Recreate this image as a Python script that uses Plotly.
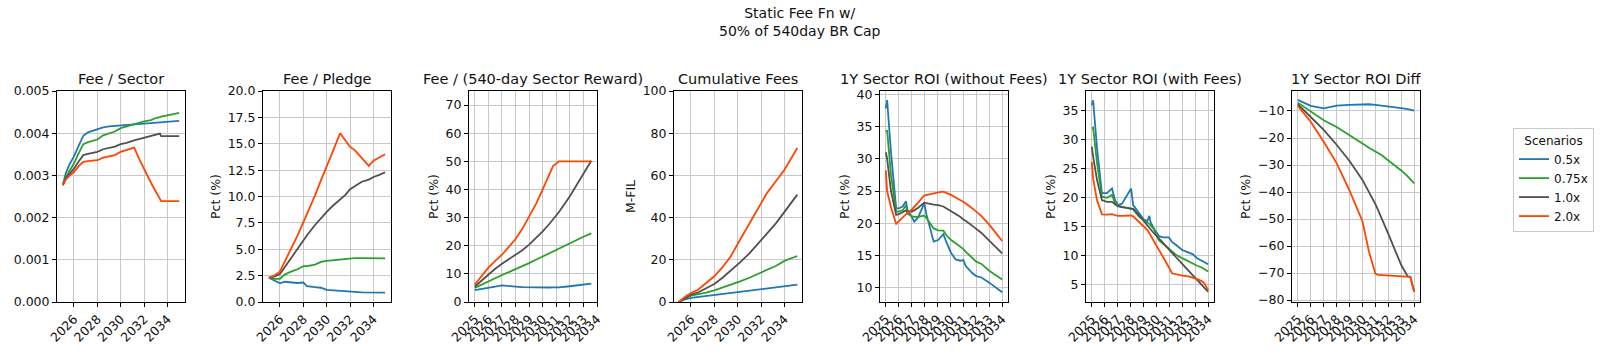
import plotly.graph_objects as go

# ---------------- data ----------------
SCENARIOS = ["0.5x", "0.75x", "1.0x", "2.0x"]
COLORS = ["#1f77b4", "#2ca02c", "#505050", "#ff4500"]

# Fee / Sector (x in years)
T1 = [2025.05, 2025.3, 2025.6, 2026.0, 2026.4, 2026.8, 2027.2, 2028.0, 2028.5, 2029.0, 2029.5,
      2030.0, 2030.5, 2031.15, 2031.6, 2032.0, 2032.6, 2033.0, 2033.35, 2033.46, 2034.0, 2035.0]
FEE_SECTOR = [
    [.00277, .00305, .00325, .00345, .00370, .00394, .00402, .00410, .00414, .00416, .00417,
     .00419, .00420, .00420, .00421, .00422, .00423, .00424, .00425, .00425, .00427, .00429],
    [.00277, .00295, .00310, .00328, .00352, .00374, .00379, .00385, .00395, .00400, .00404,
     .00412, .00416, .00421, .00425, .00428, .00431, .00436, .00438, .00439, .00442, .00448],
    [.00277, .00292, .00303, .00316, .00333, .00348, .00351, .00356, .00362, .00365, .00368,
     .00374, .00377, .00383, .00386, .00389, .00393, .00396, .00399, .00393, .00393, .00393],
    [.00277, .00290, .00299, .00308, .00322, .00332, .00334, .00336, .00342, .00345, .00348,
     .00356, .00360, .00366, .00338, .00315, .00282, .00262, .00244, .00239, .00239, .00239],
]

# Fee / Pledge (%)
T2 = [2025.05, 2025.5, 2026.0, 2026.4, 2027.0, 2027.5, 2028.0, 2028.3, 2029.0, 2029.5, 2030.0,
      2030.5, 2031.15, 2031.6, 2032.0, 2032.4, 2033.0, 2033.6, 2034.0, 2034.5, 2035.0]
FEE_PLEDGE = [
    [2.3, 2.05, 1.77, 1.92, 1.82, 1.8, 1.85, 1.5, 1.4, 1.35, 1.15, 1.1, 1.05, 1.02, 0.98, 0.96,
     0.92, 0.9, 0.89, 0.88, 0.88],
    [2.3, 2.2, 2.2, 2.6, 2.9, 3.1, 3.4, 3.4, 3.55, 3.8, 3.9, 3.95, 4.05, 4.1, 4.15, 4.15, 4.15,
     4.15, 4.18, 4.12, 4.13],
    [2.3, 2.4, 2.65, 3.3, 4.3, 5.1, 5.9, 6.3, 7.3, 7.95, 8.55, 9.1, 9.75, 10.15, 10.7, 11.0, 11.4,
     11.6, 11.85, 12.05, 12.3],
    [2.3, 2.5, 2.9, 3.8, 5.1, 6.3, 7.55, 8.3, 10.1, 11.5, 12.8, 14.2, 16.0, 15.3, 14.7, 14.4, 13.7,
     12.9, 13.4, 13.7, 14.0],
]

# Fee / (540-day Sector Reward) (%), x = year index from 2025
I3 = [0, 0.5, 1, 1.5, 2, 2.5, 3, 3.5, 4, 4.5, 5, 5.5, 5.76, 6.2, 7, 8, 8.58]
FEE_REWARD = [
    [4.2, 4.7, 5.1, 5.5, 5.9, 5.8, 5.5, 5.3, 5.2, 5.1, 5.1, 5.15, 5.2, 5.2, 5.6, 6.1, 6.5],
    [5.0, 6.2, 7.4, 8.5, 9.6, 10.6, 11.6, 12.7, 13.8, 15.0, 16.2, 17.4, 18.0, 19.1, 21.0, 23.2, 24.4],
    [5.5, 7.7, 9.8, 11.8, 13.6, 15.1, 16.6, 18.4, 20.4, 22.6, 25.1, 27.8, 29.3, 32.0, 37.6, 45.3, 50.2],
    [6.2, 9.2, 12.2, 14.6, 16.8, 19.6, 22.4, 26.0, 30.2, 34.8, 40.0, 45.3, 48.3, 50.0, 50.0, 50.0, 50.0],
]

# Cumulative Fees (M-FIL)
T4 = [2024.95, 2025.5, 2026.0, 2026.6, 2027.3, 2028.0, 2028.7, 2029.4, 2030.2, 2031.0, 2031.8,
      2032.5, 2033.3, 2034.0, 2035.1]
CUM_FEES = [
    [0, 1.3, 2.0, 2.4, 3.0, 3.5, 3.9, 4.3, 4.9, 5.4, 6.0, 6.5, 7.1, 7.6, 8.2],
    [0, 1.8, 3.0, 3.6, 4.5, 5.5, 6.8, 8.0, 9.8, 11.5, 13.4, 15.0, 17.2, 19.5, 21.8],
    [0, 2.0, 3.5, 4.5, 6.5, 8.5, 11.5, 14.8, 18.8, 23.0, 27.8, 32.4, 37.5, 42.5, 50.9],
    [0, 2.5, 4.2, 5.8, 9.0, 12.2, 16.5, 21.6, 29.5, 37.0, 44.5, 51.6, 57.5, 62.7, 73.0],
]

# 1Y Sector ROI (without Fees)
I5 = [0, 0.1, 0.4, 0.8, 1.0, 1.3, 1.56, 1.67, 2.0, 2.2, 2.5, 2.97, 3.15, 3.7, 4.05, 4.45, 4.7,
      5.05, 5.4, 5.75, 6.0, 6.17, 6.7, 7.0, 7.4, 8.0, 9.0]
ROI_NOFEE = [
    [37.8, 39.1, 31.0, 22.3, 22.3, 22.6, 23.4, 22.1, 21.0, 20.25, 20.9, 23.1, 21.3, 17.15, 17.4,
     18.3, 17.0, 15.4, 14.4, 14.2, 14.3, 13.4, 12.25, 11.8, 11.6, 10.8, 9.3],
    [34.2, 34.4, 27.5, 21.8, 21.8, 22.0, 22.8, 21.5, 21.1, 21.0, 21.0, 21.2, 20.8, 19.2, 18.9,
     18.85, 18.1, 17.4, 16.9, 16.4, 16.0, 15.6, 14.6, 14.05, 13.7, 12.65, 11.3],
    [31.0, 30.0, 25.0, 21.3, 21.4, 21.7, 22.0, 21.8, 21.8, 22.0, 22.4, 23.2, 23.1, 22.9, 22.8,
     22.6, 22.3, 21.9, 21.5, 21.0, 20.6, 20.4, 19.6, 19.1, 18.5, 17.3, 15.35],
    [28.2, 25.0, 22.5, 19.9, 20.3, 20.9, 21.5, 21.6, 22.1, 22.5, 23.2, 24.3, 24.4, 24.6, 24.8,
     24.9, 24.7, 24.4, 24.0, 23.6, 23.3, 23.1, 22.3, 21.8, 21.1, 19.8, 17.25],
]

# 1Y Sector ROI (with Fees)
I6 = [0, 0.1, 0.4, 0.78, 1.17, 1.56, 1.8, 2.03, 2.34, 3.04, 3.2, 3.64, 4.0, 4.3, 4.45, 4.53, 4.8,
      5.19, 5.5, 5.97, 6.2, 6.5, 6.99, 7.5, 7.79, 8.15, 8.5, 8.7, 9.0]
ROI_FEE = [
    [35.9, 36.7, 28.5, 20.7, 20.7, 21.5, 19.5, 18.65, 18.9, 21.5, 18.65, 17.2, 16.2, 15.9, 16.8,
     15.8, 14.6, 13.3, 13.1, 13.1, 12.3, 11.8, 10.9, 10.45, 10.2, 9.5, 9.1, 8.8, 8.45],
    [31.85, 32.0, 26.0, 20.1, 19.9, 20.4, 18.95, 18.6, 18.35, 17.95, 17.9, 16.65, 16.0, 15.6, 15.4,
     15.2, 14.5, 12.6, 12.0, 11.2, 10.8, 10.1, 9.5, 8.9, 8.6, 8.2, 7.9, 7.6, 7.2],
    [28.7, 27.0, 23.0, 19.5, 19.2, 19.2, 18.8, 18.4, 18.3, 18.1, 18.0, 16.9, 15.9, 15.2, 14.7,
     14.5, 13.8, 12.9, 12.1, 11.0, 10.4, 9.7, 8.5, 7.3, 6.6, 5.7, 4.9, 4.4, 3.7],
    [26.1, 23.2, 19.5, 17.05, 17.0, 17.1, 16.9, 16.8, 16.8, 16.85, 16.7, 15.8, 15.0, 14.35, 13.8,
     13.5, 12.4, 10.9, 9.7, 7.9, 6.9, 6.7, 6.5, 6.35, 6.2, 5.9, 5.55, 5.2, 4.0],
]

# 1Y Sector ROI Diff
I7 = [0, 1, 2, 3, 4, 5, 5.5, 6, 6.2, 6.5, 7, 7.5, 8, 8.5, 8.7, 9]
ROI_DIFF = [
    [-5.9, -8.1, -9.0, -8.0, -7.7, -7.4, -7.5, -7.7, -7.8, -7.9, -8.2, -8.5, -8.9, -9.3, -9.5, -9.9],
    [-6.9, -10.3, -13.4, -15.9, -18.8, -22.0, -23.6, -25.0, -25.5, -26.4, -28.3, -30.1, -32.0,
     -34.2, -35.3, -36.8],
    [-7.5, -12.1, -17.0, -22.5, -28.5, -35.5, -39.8, -44.5, -46.6, -49.8, -55.5, -61.3, -67.0,
     -71.2, -71.4, -76.9],
    [-8.1, -14.0, -21.4, -29.3, -39.5, -50.8, -62.0, -70.2, -70.7, -70.8, -70.9, -71.0, -71.2,
     -71.3, -71.4, -76.9],
]

TITLES = ["Fee / Sector", "Fee / Pledge", "Fee / (540-day Sector Reward)", "Cumulative Fees",
          "1Y Sector ROI (without Fees)", "1Y Sector ROI (with Fees)", "1Y Sector ROI Diff"]
YTITLES = ["", "Pct (%)", "Pct (%)", "M-FIL", "Pct (%)", "Pct (%)", "Pct (%)"]
YEAR_TICKS = [2026, 2028, 2030, 2032, 2034]
INDEX_LABELS = [str(y) for y in range(2025, 2035)]

PANELS = [
    (T1, FEE_SECTOR), (T2, FEE_PLEDGE), (I3, FEE_REWARD), (T4, CUM_FEES),
    (I5, ROI_NOFEE), (I6, ROI_FEE), (I7, ROI_DIFF),
]

# ---------------- layout ----------------
W, H = 1600, 355
LEFTS = [57, 263, 469, 674, 880, 1086, 1292]
PW = 128
Y0, Y1 = (H - 302) / H, (H - 91) / H
FONT = "DejaVu Sans, Verdana, sans-serif"

fig = go.Figure()
for p, (xs, series) in enumerate(PANELS):
    ax = "" if p == 0 else str(p + 1)
    for s, ys in enumerate(series):
        fig.add_trace(go.Scatter(
            x=xs, y=ys, mode="lines", name=SCENARIOS[s],
            line=dict(color=COLORS[s], width=1.8),
            xaxis="x" + ax, yaxis="y" + ax,
            legendgroup=SCENARIOS[s], showlegend=(p == 0),
        ))

common = dict(showline=True, linecolor="black", linewidth=1, mirror=True,
              ticks="outside", ticklen=4, tickcolor="black", tickwidth=1,
              showgrid=True, gridcolor="#c8c8c8", gridwidth=1, zeroline=False,
              automargin=False,
              tickfont=dict(family=FONT, size=12.5, color="#111"))

yranges = [[0, 0.005], [0, 20], [0, 75], [0, 100], [7.8, 40.5], [1.95, 38.3], [-80.7, -2.6]]
ytickv = [[0, .001, .002, .003, .004, .005],
          [0, 2.5, 5, 7.5, 10, 12.5, 15, 17.5, 20],
          [0, 10, 20, 30, 40, 50, 60, 70],
          [0, 20, 40, 60, 80, 100],
          [10, 15, 20, 25, 30, 35, 40],
          [5, 10, 15, 20, 25, 30, 35],
          [-80, -70, -60, -50, -40, -30, -20, -10]]
yfmt = [".3f", ".1f", "d", "d", "d", "d", "d"]

layout = {}
annotations = []
for p in range(7):
    ax = "" if p == 0 else str(p + 1)
    x0 = LEFTS[p] / W
    x1 = (LEFTS[p] + PW) / W
    if p in (0, 1, 3):
        xa = dict(domain=[x0, x1], anchor="y" + ax, range=[2024.55, 2035.5],
                  tickmode="array", tickvals=YEAR_TICKS,
                  ticktext=[str(v) for v in YEAR_TICKS], tickangle=-45, **common)
    else:
        rng = [-0.43, 9.0] if p == 2 else [-0.45, 9.45]
        xa = dict(domain=[x0, x1], anchor="y" + ax, range=rng,
                  tickmode="array", tickvals=list(range(10)),
                  ticktext=INDEX_LABELS, tickangle=-45, **common)
    ya = dict(domain=[Y0, Y1], anchor="x" + ax, range=yranges[p],
              tickmode="array", tickvals=ytickv[p], tickformat=yfmt[p], **common)
    if YTITLES[p]:
        ya["title"] = dict(text=YTITLES[p], font=dict(family=FONT, size=12.5, color="#111"),
                           standoff=4)
    layout["xaxis" + ax] = xa
    layout["yaxis" + ax] = ya
    annotations.append(dict(text=TITLES[p], x=(x0 + x1) / 2, y=(H - 79) / H,
                            xref="paper", yref="paper", xanchor="center", yanchor="middle",
                            showarrow=False, font=dict(family=FONT, size=14.5, color="#111")))

annotations.append(dict(text="Static Fee Fn w/<br>50% of 540day BR Cap", x=0.5, y=(H - 22) / H,
                        xref="paper", yref="paper", xanchor="center", yanchor="middle",
                        showarrow=False, font=dict(family=FONT, size=14, color="#111")))

fig.update_layout(
    width=W, height=H, margin=dict(l=0, r=0, t=0, b=0, autoexpand=False),
    paper_bgcolor="white", plot_bgcolor="white",
    font=dict(family=FONT, size=12, color="#111"),
    annotations=annotations,
    legend=dict(x=1513 / W, y=(H - 128) / H, xanchor="left", yanchor="top",
                bordercolor="#cccccc", borderwidth=1, bgcolor="white",
                title=dict(text="Scenarios", side="top center",
                           font=dict(family=FONT, size=12)),
                font=dict(family=FONT, size=12), tracegroupgap=0, itemwidth=30),
    **layout,
)

fig.write_html("out.html", config={"displayModeBar": False},
               post_script="document.body.style.margin='0';")
